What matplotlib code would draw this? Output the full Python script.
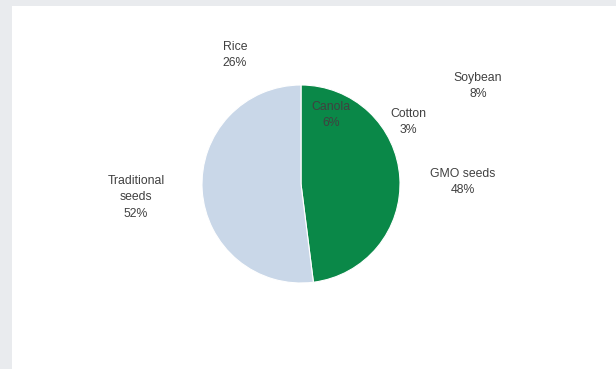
import matplotlib
matplotlib.use("Agg")
import matplotlib.pyplot as plt
from matplotlib.patches import Rectangle

# Data
main_labels = ["GMO seeds", "Traditional seeds"]
main_values = [48, 52]
main_colors = ["#0a8848", "#c9d7e8"]

sub_labels = ["Rice", "Canola", "Cotton", "Soybean"]
sub_values = [26, 6, 3, 8]

plt.rcParams["font.family"] = ["Liberation Sans", "DejaVu Sans"]

fig = plt.figure(figsize=(6.16, 3.69), dpi=100)
fig.patch.set_facecolor("#e9ebee")
fig.patches.append(Rectangle((12 / 616, 0), 1, 1 - 6 / 369, transform=fig.transFigure,
                             facecolor="white", edgecolor="none", zorder=-10))

ax = fig.add_axes([0, 0, 1, 1])
ax.set_zorder(5)
ax.patch.set_visible(False)
ax.pie(main_values, colors=main_colors, startangle=90, counterclock=False,
       radius=1.0, wedgeprops=dict(edgecolor="white", linewidth=0.8))

R = 99.0
cx, cy = 301.0, 184.0
ax.set_xlim(-cx / R, (616 - cx) / R)
ax.set_ylim((cy - 369) / R, cy / R)
ax.set_aspect("auto")
ax.axis("off")

def pos(px, py):
    return ((px - cx) / R, (cy - py) / R)

txt_kw = dict(ha="center", va="center", fontsize=8.8, color="#404040", linespacing=1.5)

# main labels
main_pos = [pos(463, 182), pos(136, 197)]
main_text = ["GMO seeds", "Traditional\nseeds"]
for t, v, p in zip(main_text, main_values, main_pos):
    ax.text(p[0], p[1], f"{t}\n{v}%", **txt_kw)

# sub labels
sub_pos = [pos(235, 55), pos(331, 115), pos(408, 122), pos(478, 86)]
for t, v, p in zip(sub_labels, sub_values, sub_pos):
    ax.text(p[0], p[1], f"{t}\n{v}%", **txt_kw)

fig.savefig("out.png", dpi=100, facecolor=fig.get_facecolor())
